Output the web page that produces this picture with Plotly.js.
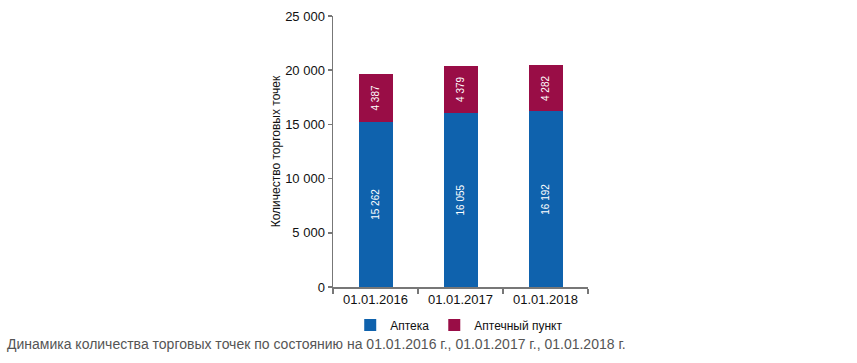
<!DOCTYPE html>
<html>
<head>
<meta charset="utf-8">
<script src="https://cdn.plot.ly/plotly-3.0.1.min.js"></script>
<style>html,body{margin:0;padding:0;background:#fff;}#chart{width:857px;height:363px;}</style>
</head>
<body>
<div id="chart"></div>
<script>
const categories = ['01.01.2016', '01.01.2017', '01.01.2018'];
const apteka = [15262, 16055, 16192];
const aptPunkt = [4387, 4379, 4282];
const seriesNames = ['Аптека', 'Аптечный пункт'];
const yTickVals = [0, 5000, 10000, 15000, 20000, 25000];
const caption = 'Динамика количества торговых точек по состоянию на 01.01.2016 г., 01.01.2017 г., 01.01.2018 г.';

const barText = {family: 'Liberation Sans Narrow, Arial Narrow, Liberation Sans, sans-serif', size: 10, color: '#ffffff'};
const traces = [
  {type: 'bar', x: categories, y: apteka, name: seriesNames[0],
   marker: {color: '#0f62ad'}, width: 0.4,
   text: apteka, texttemplate: '%{y:,}', textposition: 'inside', insidetextanchor: 'middle',
   textangle: -90, textfont: barText, hoverinfo: 'none'},
  {type: 'bar', x: categories, y: aptPunkt, name: seriesNames[1],
   marker: {color: '#990d46'}, width: 0.4,
   text: aptPunkt, texttemplate: '%{y:,}', textposition: 'inside', insidetextanchor: 'middle',
   textangle: -90, textfont: barText, hoverinfo: 'none'}
];

const layout = {
  width: 857, height: 363,
  margin: {l: 333, r: 269, t: 16, b: 76, pad: 0},
  barmode: 'stack',
  separators: ', ',
  paper_bgcolor: '#ffffff', plot_bgcolor: '#ffffff',
  font: {family: 'Liberation Sans, Arial, sans-serif', size: 13, color: '#111111'},
  showlegend: true,
  legend: {orientation: 'h', x: 0.495, xanchor: 'center', y: -0.14, yanchor: 'middle',
           font: {family: 'Liberation Sans Narrow, Arial Narrow, Liberation Sans, sans-serif', size: 12, color: '#111'},
           itemwidth: 30, traceorder: 'normal'},
  xaxis: {type: 'category', range: [-0.5, 2.5], showline: true, linecolor: '#777', linewidth: 1.5,
          ticks: 'outside', tickson: 'boundaries', ticklen: 5, tickcolor: '#777', tickwidth: 1.5,
          showgrid: false, zeroline: false, tickfont: {size: 13, color: '#111'}, fixedrange: true},
  yaxis: {range: [0, 25000], tickvals: yTickVals, tickformat: ',d', showline: true, linecolor: '#777', linewidth: 1.5,
          ticks: 'outside', ticklen: 4, tickcolor: '#777', tickwidth: 1.5, showgrid: false, zeroline: false,
          tickfont: {size: 13, color: '#111'},
          title: {text: 'Количество торговых точек', font: {size: 12, color: '#111'}, standoff: 2}, fixedrange: true},
  annotations: [
    {text: caption, xref: 'paper', yref: 'paper', x: -328/255, xanchor: 'left', y: -57/271, yanchor: 'middle',
     showarrow: false, font: {family: 'Liberation Sans, Arial, sans-serif', size: 14, color: '#555555'}}
  ]
};

Plotly.newPlot('chart', traces, layout, {displayModeBar: false, staticPlot: true});
</script>
</body>
</html>
